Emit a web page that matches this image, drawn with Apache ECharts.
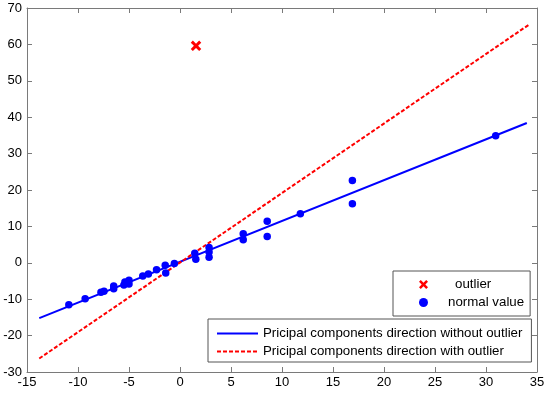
<!DOCTYPE html>
<html><head><meta charset="utf-8">
<script src="https://cdn.jsdelivr.net/npm/echarts@6/dist/echarts.min.js"></script>
<style>html,body{margin:0;padding:0;background:#fff}#c{width:550px;height:393px}</style>
</head><body><div id="c"></div>
<script>
// ---- data ----
const outlierX = [1.57];
const outlierY = [59.6];
const normalX = [-10.9, -9.3, -7.75, -7.45, -6.5, -6.5, -5.5, -5.4, -5.0, -5.0, -3.65, -3.1, -2.3, -1.45, -1.4, -0.55, 1.45, 1.55, 2.85, 2.85, 2.85, 6.2, 6.2, 8.55, 8.55, 11.8, 16.9, 16.9, 30.95];
const normalY = [-11.5, -9.9, -8.1, -7.8, -7.1, -6.4, -6.1, -5.3, -5.8, -4.8, -3.6, -3.1, -1.9, -0.7, -2.8, -0.2, 2.6, 1.0, 4.2, 3.0, 1.5, 8.0, 6.3, 11.4, 7.2, 13.5, 22.6, 16.2, 34.9];
const lineNoOutX = [-13.8, 34.0];
const lineNoOutY = [-15.2, 38.4];
const lineOutX = [-13.8, 34.2];
const lineOutY = [-26.3, 65.4];
const xTicks = {min: -15, max: 35, step: 5};
const yTicks = {min: -30, max: 70, step: 10};
const names = ['outlier', 'normal value', 'Pricipal components direction without outlier', 'Pricipal components direction with outlier'];

const zip = (a, b) => a.map((v, i) => [v, b[i]]);
const xPath = 'path://M0,2 L2,0 L5,3 L8,0 L10,2 L7,5 L10,8 L8,10 L5,7 L2,10 L0,8 L3,5 Z';
const axisCol = '#7a7a7a';
const font = 'Liberation Sans, Arial, sans-serif';

function mkX(pos, showLabel) {
  return {
    type: 'value', position: pos, min: xTicks.min, max: xTicks.max, interval: xTicks.step,
    axisLine: {show: true, onZero: false, lineStyle: {color: axisCol, width: 1}},
    axisTick: {show: true, inside: true, length: 5, lineStyle: {color: axisCol}},
    axisLabel: {show: showLabel, color: '#000', fontSize: 13, fontFamily: font, margin: 4},
    splitLine: {show: false}
  };
}
function mkY(pos, showLabel) {
  return {
    type: 'value', position: pos, min: yTicks.min, max: yTicks.max, interval: yTicks.step,
    axisLine: {show: true, onZero: false, lineStyle: {color: axisCol, width: 1}},
    axisTick: {show: true, inside: true, length: 5, lineStyle: {color: axisCol}},
    axisLabel: {show: showLabel, color: '#000', fontSize: 13, fontFamily: font, margin: 5},
    splitLine: {show: false}
  };
}

const richBase = {fontSize: 13.3, fontFamily: font, color: '#000'};
const chart = echarts.init(document.getElementById('c'), null, {renderer: 'canvas'});
chart.setOption({
  animation: false,
  backgroundColor: '#fff',
  grid: {left: 27, right: 13, top: 8, bottom: 21, containLabel: false},
  xAxis: [mkX('bottom', true), mkX('top', false)],
  yAxis: [mkY('left', true), mkY('right', false)],
  legend: [
    {
      data: [names[0], names[1]], orient: 'vertical', left: 393, top: 271,
      padding: [7, 6, 7, 26], itemWidth: 25, itemHeight: 9, itemGap: 5,
      backgroundColor: '#fff', borderColor: '#555', borderWidth: 1, borderRadius: 0,
      formatter: n => n === names[0] ? '{a|' + n + '}' : '{b|' + n + '}',
      textStyle: Object.assign({}, richBase, {
        rich: {
          a: Object.assign({}, richBase, {padding: [0, 0, 0, 14]}),
          b: Object.assign({}, richBase, {padding: [0, 0, 0, 7]})
        }
      })
    },
    {
      data: [names[2], names[3]], orient: 'vertical', left: 208, top: 319,
      padding: [8, 9, 4, 8], itemWidth: 41, itemHeight: 12, itemGap: 5,
      backgroundColor: '#fff', borderColor: '#555', borderWidth: 1, borderRadius: 0,
      itemStyle: {opacity: 0},
      textStyle: richBase
    }
  ],
  series: [
    {
      name: names[2], type: 'line', data: zip(lineNoOutX, lineNoOutY),
      symbol: 'none', lineStyle: {color: '#0000ff', width: 2}, itemStyle: {color: '#0000ff'}, z: 2
    },
    {
      name: names[3], type: 'line', data: zip(lineOutX, lineOutY),
      symbol: 'none', lineStyle: {color: '#ff0000', width: 2, type: [4, 2]}, itemStyle: {color: '#ff0000'}, z: 2
    },
    {
      name: names[1], type: 'scatter', data: zip(normalX, normalY),
      symbol: 'circle', symbolSize: 7.5, itemStyle: {color: '#0000ff', opacity: 1}, z: 3
    },
    {
      name: names[0], type: 'scatter', data: zip(outlierX, outlierY),
      symbol: xPath, symbolSize: 10.5, itemStyle: {color: '#ff0000', opacity: 1}, z: 3
    }
  ]
});
</script></body></html>
